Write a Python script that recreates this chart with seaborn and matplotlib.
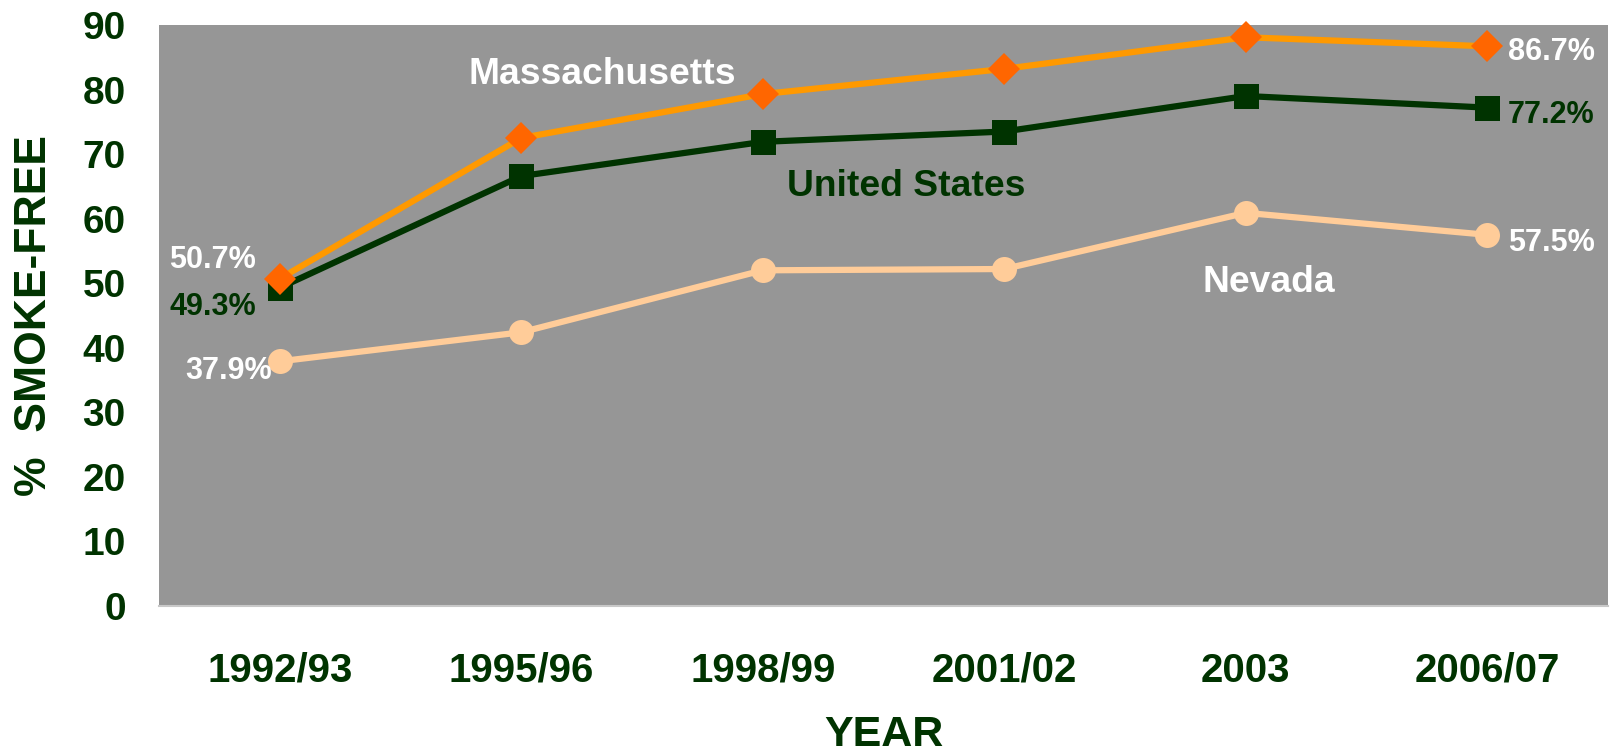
import pandas as pd
import seaborn as sns
import matplotlib.pyplot as plt

years = ['1992/93', '1995/96', '1998/99', '2001/02', '2003', '2006/07']
massachusetts = [50.7, 72.5, 79.3, 83.2, 88.1, 86.7]
united_states = [49.3, 66.6, 71.9, 73.5, 79.0, 77.2]
nevada = [37.9, 42.4, 52.0, 52.2, 60.9, 57.5]

DKGREEN = '#003300'
GRAY = '#969696'

sns.set_style('white')
plt.rcParams['font.family'] = ['Liberation Sans', 'DejaVu Sans']
plt.rcParams['font.weight'] = 'bold'

df = pd.DataFrame({
    'year': years,
    'Massachusetts': massachusetts,
    'United States': united_states,
    'Nevada': nevada,
})

fig = plt.figure(figsize=(16.12, 7.56), dpi=100)
ax = fig.add_axes([159 / 1612, 1 - 606 / 756, 1449 / 1612, 581 / 756])
ax.set_facecolor(GRAY)

# series styles: (line colour, marker, marker colour, marker size)
styles = {
    'Nevada': ('#FFCC99', 'o', '#FFCC99', 18),
    'United States': (DKGREEN, 's', DKGREEN, 18),
    'Massachusetts': ('#FF9900', 'D', '#FF6600', 16),
}
for name, (lc, mk, mc, ms) in styles.items():
    sns.lineplot(data=df, x='year', y=name, ax=ax, sort=False, legend=False,
                 color=lc, lw=4.5, marker=mk, markersize=ms,
                 markerfacecolor=mc, markeredgecolor=mc, markeredgewidth=0,
                 clip_on=False)

ax.set_xlim(-0.5, len(years) - 0.5)
ax.set_ylim(0, 90)
ax.set_yticks(range(0, 91, 10))
ax.set_xticks(range(len(years)))
ax.set_xticklabels(years)
ax.tick_params(axis='x', length=0, pad=33, labelsize=29, labelcolor=DKGREEN)
ax.tick_params(axis='y', length=0, pad=24, labelsize=28, labelcolor=DKGREEN)
for lab in ax.get_xticklabels() + ax.get_yticklabels():
    lab.set_fontweight('bold')

for s in ['top', 'left', 'right']:
    ax.spines[s].set_visible(False)
ax.spines['bottom'].set_color('#C8C8C8')
ax.spines['bottom'].set_linewidth(1.5)

ax.set_xlabel('YEAR', fontsize=31, fontweight='bold', color=DKGREEN, labelpad=18)
ax.set_ylabel('%  SMOKE-FREE', fontsize=32, fontweight='bold', color=DKGREEN, labelpad=20)

# series names
ax.text(0.78, 80.9, 'Massachusetts', color='white', fontsize=26.8, fontweight='bold')
ax.text(2.10, 63.5, 'United States', color=DKGREEN, fontsize=26.8, fontweight='bold')
ax.text(3.82, 48.6, 'Nevada', color='white', fontsize=26.8, fontweight='bold')

# first / last values
labels = [
    (massachusetts, 'white', (-17, 13.5), (15, -4)),
    (united_states, DKGREEN, (-17, -14), (15, -5.5)),
    (nevada, 'white', (-5.5, -7), (15, -6)),
]
last = len(years) - 1
for vals, col, off0, off1 in labels:
    ax.annotate(f'{vals[0]:.1f}%', (0, vals[0]), xytext=off0, textcoords='offset points',
                ha='right', va='center', color=col, fontsize=22, fontweight='bold')
    ax.annotate(f'{vals[last]:.1f}%', (last, vals[last]), xytext=off1, textcoords='offset points',
                ha='left', va='center', color=col, fontsize=22, fontweight='bold')

fig.savefig('out.png', dpi=100)
